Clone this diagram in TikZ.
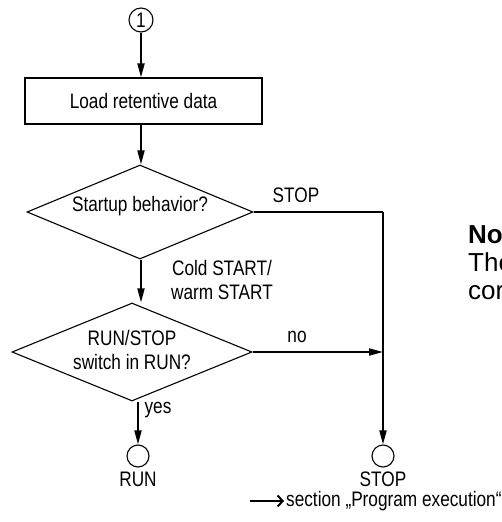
\documentclass[tikz,border=0pt]{standalone}
\usepackage{fontspec}
\setmainfont{Liberation Sans}
\newfontfamily\condfont[FakeStretch=0.82]{Liberation Sans}
\usetikzlibrary{shapes.geometric,arrows.meta}
\begin{document}
\begin{tikzpicture}[x=1pt,y=-1pt,
  lbl/.style={font=\condfont\fontsize{21}{24}\selectfont, inner sep=0pt},
  flow/.style={line width=1.8pt, -{Triangle[length=14pt,width=7pt]}},
  plain/.style={line width=1.8pt},
  boxstyle/.style={draw, line width=1.1pt, minimum width=237pt, minimum height=46pt, inner sep=0pt},
  dia/.style={draw, diamond, line width=1.1pt, inner sep=0pt},
  term/.style={draw, circle, line width=1.1pt, inner sep=0pt, minimum size=22pt},
  note/.style={font=\fontsize{26}{28}\selectfont, inner sep=0pt, anchor=base west}]
\useasboundingbox (0,0) rectangle (502,522);
\clip (0,0) rectangle (502,522);
% nodes
\node[term, minimum size=24pt, lbl] (c1) at (141,20) {1};
\node[boxstyle, lbl] (load) at (143.5,101) {Load retentive data};
\node[dia, minimum width=226pt, minimum height=94pt] (d1) at (140,212) {};
\node[lbl] (d1t) at (140,206) {Startup behavior?};
\node[dia, minimum width=240pt, minimum height=98pt] (d2) at (132,352) {};
\node[lbl, align=center] (d2t) at (132,350) {RUN/STOP\\switch in RUN?};
\node[term] (run) at (138,456) {};
\node[lbl] (runt) at (138,479) {RUN};
\node[term] (stop) at (383,456) {};
\node[lbl] (stopt) at (383,479) {STOP};
\coordinate (corner) at (383,212);
\coordinate (join) at (383,352);
% connectors
\draw[flow] (c1) -- (load.north -| c1);
\draw[flow] (load.south -| c1) -- (d1.north -| c1);
\draw[flow] (d1.south -| c1) -- (d2.north -| c1);
\draw[flow] (d2.south -| run) -- (run.north);
\draw[plain] (d1.east) -- (corner);
\draw[flow] (corner) -- (stop.north);
\draw[flow] (d2.east) -- (join);
% labels
\node[lbl] (stoplbl) at (296,195) {STOP};
\node[lbl] (nolbl) at (297,337) {no};
\node[lbl, align=center] (cold) at (222,280) {Cold START/\\warm START};
\node[lbl] (yes) at (158,410) {yes};
% bottom reference
\coordinate (ra) at (250,501);
\coordinate (rb) at (284,501);
\draw[line width=2.2pt, -{Straight Barb[length=5pt,width=11pt,line width=2pt]}] (ra) -- (rb);
\node[lbl, anchor=west] (sect) at (286,501) {section „Program execution“};
% note
\node[note, font=\bfseries\fontsize{26}{28}\selectfont] (n1) at (468,243) {No};
\node[note] (n2) at (468,271) {The};
\node[note] (n3) at (468,299) {cor};
\end{tikzpicture}
\end{document}
